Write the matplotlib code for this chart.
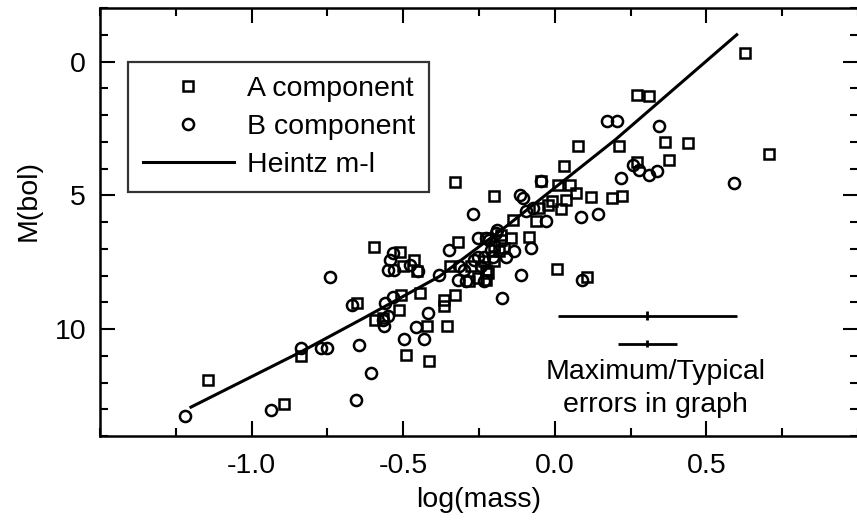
import matplotlib
matplotlib.use("Agg")
import matplotlib.pyplot as plt
from matplotlib.ticker import MultipleLocator, FormatStrFormatter

plt.rcParams['font.family'] = ['Liberation Sans', 'DejaVu Sans']
plt.rcParams['axes.unicode_minus'] = False

# ---- data ----
a_logm = [-1.145, -0.894, -0.838, -0.651, -0.597, -0.594, -0.567, -0.512, -0.501, -0.463,
          -0.454, -0.514, -0.507, -0.446, -0.490, -0.421, -0.415, -0.356, -0.364, -0.364,
          -0.328, -0.344, -0.318, -0.329, -0.282, -0.276, -0.254, -0.233, -0.227, -0.227,
          -0.227, -0.200, -0.221, -0.183, -0.178, -0.178, -0.200, -0.167, -0.202, -0.145,
          -0.139, -0.085, -0.063, -0.051, -0.024, -0.008, -0.046, 0.009, 0.050, 0.069,
          0.020, 0.036, 0.029, 0.075, 0.212, 0.118, 0.190, 0.223, 0.007, 0.105,
          0.272, 0.310, 0.272, 0.365, 0.439, 0.376, 0.628, 0.705]
a_mbol = [11.90, 12.80, 11.00, 9.03, 6.95, 9.65, 9.59, 7.14, 7.66, 7.41,
          7.85, 9.30, 8.72, 8.66, 10.96, 9.88, 11.21, 9.88, 8.90, 9.13,
          8.72, 7.66, 6.73, 4.49, 8.22, 7.66, 8.09, 7.47, 7.78, 8.16,
          6.60, 7.47, 7.91, 7.10, 6.66, 6.48, 6.91, 6.97, 5.04, 6.60,
          5.91, 6.56, 5.98, 5.48, 5.35, 5.23, 4.48, 4.61, 4.61, 4.92,
          5.51, 5.17, 3.92, 3.15, 3.15, 5.07, 5.10, 5.04, 7.77, 8.06,
          1.24, 1.28, 3.77, 3.01, 3.05, 3.67, -0.32, 3.46]

b_logm = [-1.221, -0.937, -0.838, -0.770, -0.750, -0.742, -0.669, -0.647, -0.657, -0.605,
          -0.567, -0.550, -0.562, -0.561, -0.535, -0.545, -0.535, -0.551, -0.529, -0.479,
          -0.452, -0.499, -0.432, -0.457, -0.419, -0.383, -0.350, -0.315, -0.320, -0.293,
          -0.298, -0.265, -0.254, -0.233, -0.254, -0.227, -0.271, -0.233, -0.243, -0.211,
          -0.194, -0.189, -0.216, -0.205, -0.161, -0.175, -0.134, -0.112, -0.079, -0.114,
          -0.106, -0.095, -0.073, -0.030, -0.046, 0.086, 0.143, 0.091, 0.171, 0.204,
          0.343, 0.219, 0.259, 0.277, 0.310, 0.338, 0.590]
b_mbol = [13.24, 13.04, 10.71, 10.71, 10.71, 8.06, 9.09, 10.59, 12.67, 11.64,
          9.65, 9.53, 9.88, 9.03, 8.80, 7.41, 7.16, 7.78, 7.78, 7.60,
          7.85, 10.36, 10.36, 9.93, 9.40, 7.97, 7.04, 7.66, 8.16, 8.22,
          7.78, 7.41, 7.29, 8.22, 6.60, 6.60, 5.70, 7.29, 7.66, 7.04,
          6.41, 6.29, 6.66, 7.29, 7.29, 8.84, 7.08, 7.97, 6.97, 4.98,
          5.10, 5.60, 5.48, 5.98, 4.48, 5.81, 5.69, 8.16, 2.24, 2.24,
          2.40, 4.36, 3.86, 4.07, 4.26, 4.11, 4.54]

heintz_logm = [-1.20, -0.84, -0.63, -0.38, -0.16, 0.20, 0.60]
heintz_mbol = [12.92, 10.87, 9.59, 8.03, 6.16, 2.92, -1.00]

err_logm = [0.305, 0.305]
err_mbol = [9.50, 10.55]
err_x = [0.296, 0.098]
err_y = [0.18, 0.13]

x_ticks = [-1.0, -0.5, 0.0, 0.5]
y_ticks = [0, 5, 10]

# ---- figure ----
fig = plt.figure(figsize=(8.57, 5.24), dpi=100)
ax = fig.add_axes([100/857, 88/524, 758/857, 428/524])

FS = 20.5
ax.plot(heintz_logm, heintz_mbol, color='black', lw=2.2, label='Heintz m-l', zorder=2)
ax.plot(a_logm, a_mbol, ls='none', marker='s', ms=7, mfc='none', mec='black',
        mew=1.8, label='A component', zorder=3)
ax.plot(b_logm, b_mbol, ls='none', marker='o', ms=8, mfc='none', mec='black',
        mew=1.8, label='B component', zorder=3)

ax.errorbar(err_logm, err_mbol, xerr=err_x, yerr=err_y, fmt='none', ecolor='black',
            elinewidth=2.0, capsize=0)
ax.text(0.332, 11.62, 'Maximum/Typical', ha='center', va='center', fontsize=FS)
ax.text(0.332, 12.83, 'errors in graph', ha='center', va='center', fontsize=FS)

ax.set_xticks(x_ticks)
ax.xaxis.set_minor_locator(MultipleLocator(0.25))
ax.xaxis.set_major_formatter(FormatStrFormatter('%.1f'))
ax.set_yticks(y_ticks)
ax.yaxis.set_minor_locator(MultipleLocator(1))
ax.set_xlim(-1.5, 1.0)
ax.set_ylim(14.0, -2.0)

ax.tick_params(which='both', direction='in', top=True, right=True, width=1.5,
               labelsize=FS, color='black')
ax.tick_params(which='major', length=11)
ax.tick_params(which='minor', length=6)
ax.tick_params(axis='x', which='major', pad=12)
ax.tick_params(axis='y', which='major', pad=10)
for s in ax.spines.values():
    s.set_linewidth(1.8)
ax.spines['right'].set_visible(False)

ax.set_xlabel('log(mass)', fontsize=FS)
ax.set_ylabel('M(bol)', fontsize=FS)
ax.xaxis.set_label_coords(0.5, -0.118)
ax.yaxis.set_label_coords(-0.077, 0.551)

handles, labels = ax.get_legend_handles_labels()
order = [1, 2, 0]
leg = ax.legend([handles[i] for i in order], [labels[i] for i in order],
                loc='upper left', bbox_to_anchor=(0.0374, 0.8745), borderaxespad=0,
                fontsize=FS, frameon=True, fancybox=False, numpoints=1,
                handlelength=3.2, handletextpad=0.45, borderpad=0.5, labelspacing=0.42)
leg.get_frame().set_edgecolor('black')
leg.get_frame().set_linewidth(1.6)

fig.savefig('out.png', dpi=100)
